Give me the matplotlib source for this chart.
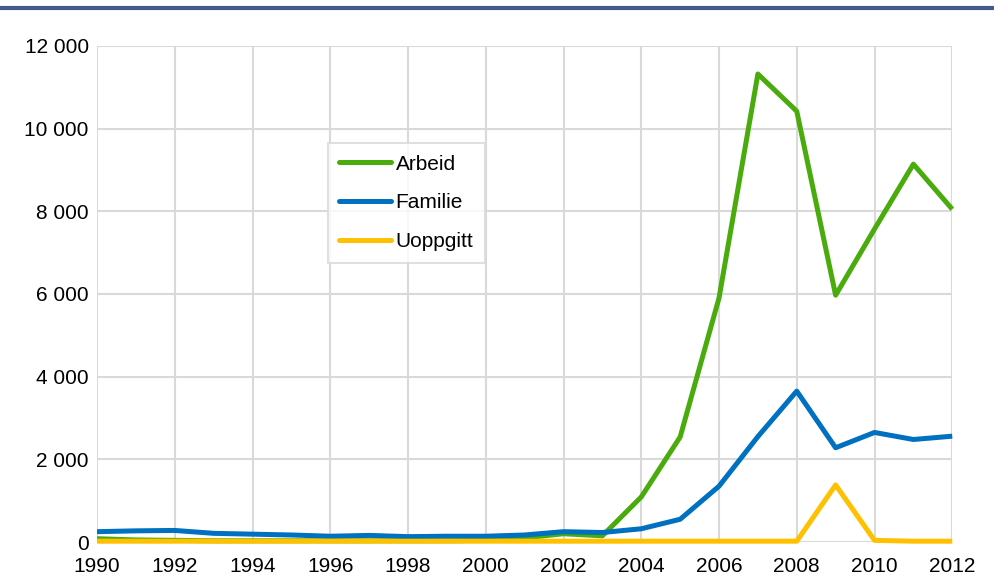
import matplotlib.pyplot as plt
from matplotlib.lines import Line2D
from matplotlib.ticker import FuncFormatter

years = list(range(1990, 2013))
arbeid = [80, 50, 40, 30, 30, 30, 30, 30, 30, 30, 40, 100, 200, 150,
          1090, 2540, 5900, 11320, 10420, 5970, 7570, 9140, 8050]
familie = [250, 270, 280, 210, 190, 170, 140, 160, 130, 140, 140, 170, 250, 230,
           320, 550, 1350, 2550, 3650, 2280, 2650, 2480, 2560]
uoppgitt = [20, 20, 20, 20, 20, 20, 20, 20, 20, 20, 20, 20, 20, 20,
            20, 20, 20, 20, 20, 1380, 40, 20, 20]

series_names = ["Arbeid", "Familie", "Uoppgitt"]
series_colors = ["#4aab0c", "#0070c0", "#ffc000"]

plt.rcParams['font.family'] = ['Liberation Sans', 'DejaVu Sans']

fig = plt.figure(figsize=(9.94, 5.81), dpi=100)
ax = fig.add_axes([0.0976, 0.0671, 0.8604, 0.8539])

for vals, name, col in zip([arbeid, familie, uoppgitt], series_names, series_colors):
    ax.plot(years, vals, color=col, linewidth=3.6, label=name, clip_on=False,
            solid_joinstyle='round', solid_capstyle='butt', zorder=3)

ax.set_xlim(1990, 2012)
ax.set_ylim(0, 12000)
ax.set_xticks(range(1990, 2013, 2))
ax.set_yticks(range(0, 12001, 2000))
ax.yaxis.set_major_formatter(FuncFormatter(lambda v, p: f"{int(v):,}".replace(",", " ")))
ax.grid(True, color="#d9d9d9", linewidth=1.5, zorder=0)
for s in ax.spines.values():
    s.set_visible(False)
ax.tick_params(length=0, labelsize=15, colors="#000000", pad=6)
ax.tick_params(axis='x', pad=11)

leg = ax.legend(loc='upper left', bbox_to_anchor=(0.270, 0.804), fontsize=15,
                frameon=True, fancybox=False, edgecolor="#d9d9d9",
                handlelength=2.5, handletextpad=0.2, borderpad=0.55,
                labelspacing=0.95, borderaxespad=0)
leg.get_frame().set_linewidth(1.5)
for h in leg.get_lines():
    h.set_solid_capstyle('round')

fig.add_artist(Line2D([0.002, 1.0], [0.986, 0.986], color="#45598a",
                      linewidth=3, transform=fig.transFigure))

fig.savefig("out.png", dpi=100)
